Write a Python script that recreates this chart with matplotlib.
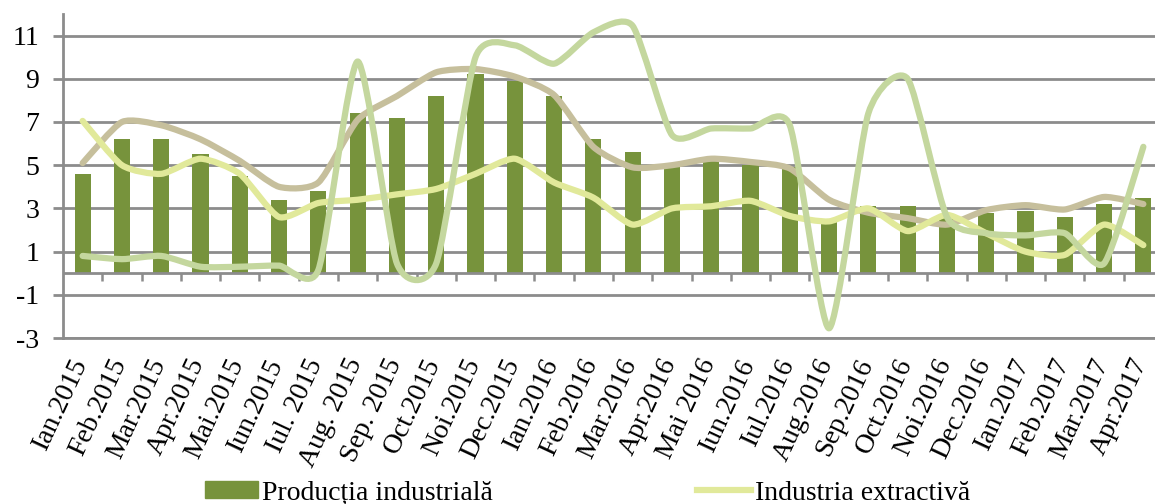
import numpy as np
import matplotlib
matplotlib.use("Agg")
import matplotlib.pyplot as plt
from matplotlib.path import Path
from matplotlib.patches import PathPatch
from matplotlib.lines import Line2D
from matplotlib.transforms import ScaledTranslation

# monthly data, Ian.2015 - Apr.2017
luni = ['Ian.2015', 'Feb.2015', 'Mar.2015', 'Apr.2015', 'Mai.2015', 'Iun.2015',
        'Iul. 2015', 'Aug. 2015', 'Sep. 2015', 'Oct.2015', 'Noi.2015', 'Dec.2015',
        'Ian.2016', 'Feb.2016', 'Mar.2016', 'Apr.2016', 'Mai 2016', 'Iun.2016',
        'Iul.2016', 'Aug.2016', 'Sep.2016', 'Oct.2016', 'Noi.2016', 'Dec.2016',
        'Ian.2017', 'Feb.2017', 'Mar.2017', 'Apr.2017']

productia = [4.6, 6.2, 6.2, 5.5, 4.5, 3.4, 3.8, 7.4, 7.2, 8.2, 9.2, 8.9, 8.2, 6.2,
             5.6, 5.0, 5.2, 5.0, 4.9, 2.5, 3.1, 3.1, 2.6, 2.8, 2.9, 2.6, 3.2, 3.5]

extractiva = [7.05, 5.0, 4.6, 5.3, 4.6, 2.6, 3.25, 3.4, 3.65, 3.9, 4.6, 5.3, 4.2, 3.5,
              2.25, 3.0, 3.1, 3.35, 2.65, 2.4, 3.0, 1.95, 2.7, 1.85, 1.0, 0.85, 2.25, 1.3]

prelucratoare = [5.1, 7.0, 6.85, 6.2, 5.2, 4.0, 4.2, 7.1, 8.2, 9.3, 9.45, 9.1, 8.25, 5.85,
                 4.9, 5.0, 5.3, 5.15, 4.85, 3.4, 2.8, 2.55, 2.25, 2.92, 3.15, 2.95, 3.53, 3.2]

energie = [0.8, 0.65, 0.8, 0.3, 0.3, 0.35, 0.15, 9.8, 0.45, 0.45, 10.0, 10.55, 9.7, 11.15,
           11.45, 6.4, 6.7, 6.7, 6.85, -2.55, 7.4, 9.0, 2.6, 1.85, 1.75, 1.85, 0.45, 5.85]

yticks = [-3, -1, 1, 3, 5, 7, 9, 11]

c_bar = '#77933c'
c_extr = '#e1e99a'
c_prel = '#c6bf9c'
c_ener = '#c4d79e'
c_grid = '#8c8c8c'

plt.rcParams['font.family'] = ['Liberation Serif', 'DejaVu Serif']
fs = 20


def smooth_path(x, y, t=0.65):
    # excel-like smoothed line: bezier through every point
    p = np.column_stack([x, y]).astype(float)
    n = len(p)
    verts = [p[0]]
    codes = [Path.MOVETO]
    for i in range(n - 1):
        p0 = p[i - 1] if i > 0 else p[i]
        p3 = p[i + 2] if i + 2 < n else p[i + 1]
        c1 = p[i] + t * (p[i + 1] - p0) / 6
        c2 = p[i + 1] - t * (p3 - p[i]) / 6
        verts += [c1, c2, p[i + 1]]
        codes += [Path.CURVE4] * 3
    return Path(verts, codes)


fig = plt.figure(figsize=(11.55, 5.04), dpi=100)
ax = fig.add_axes([63 / 1155, (504 - 338) / 504, 1100 / 1155, (338 - 14) / 504])

x = np.arange(len(luni))
ax.bar(x, productia, width=0.41, color=c_bar, zorder=2)

for serie, col in [(prelucratoare, c_prel), (extractiva, c_extr), (energie, c_ener)]:
    ax.add_patch(PathPatch(smooth_path(x, serie), facecolor='none', edgecolor=col,
                           lw=4.5, capstyle='round', joinstyle='round', zorder=3))

ax.set_xlim(-0.5, 27.5)
ax.set_ylim(-3, 12)
ax.set_yticks(yticks)
ax.set_yticklabels([str(v) for v in yticks])
ax.grid(axis='y', color=c_grid, lw=2)
ax.set_axisbelow(True)

for s in ['top', 'right']:
    ax.spines[s].set_visible(False)
for s in ['left', 'bottom']:
    ax.spines[s].set_color(c_grid)
    ax.spines[s].set_linewidth(2)

ax.tick_params(axis='y', length=7, width=2, color=c_grid, pad=10, labelsize=fs)
ax.set_xticks(x)
ax.set_xticklabels(luni, rotation=65, ha='right', va='top', rotation_mode='anchor')
ax.tick_params(axis='x', length=0, pad=12, labelsize=fs)
shift = ScaledTranslation(-13 / 100, 0, fig.dpi_scale_trans)
for lab in ax.get_xticklabels():
    lab.set_transform(lab.get_transform() + shift)

# category axis at zero with tick marks between months
ax.axhline(0, color=c_grid, lw=2, zorder=2.5)
ax.vlines(np.arange(0.5, 27.5, 1), 0, -0.37, color=c_grid, lw=1.8, zorder=2.5)

fig.legend([plt.Rectangle((0, 0), 1, 1, color=c_bar)], ['Producția industrială'],
           loc='center left', bbox_to_anchor=(205 / 1155, 0.022), frameon=False,
           fontsize=fs, borderpad=0, borderaxespad=0, handlelength=1.9,
           handleheight=0.6, handletextpad=0.15)
fig.legend([Line2D([], [], color=c_extr, lw=4.5)], ['Industria extractivă'],
           loc='center left', bbox_to_anchor=(697 / 1155, 0.022), frameon=False,
           fontsize=fs, borderpad=0, borderaxespad=0, handlelength=1.95,
           handletextpad=0.15)

fig.savefig('out.png', dpi=100)
